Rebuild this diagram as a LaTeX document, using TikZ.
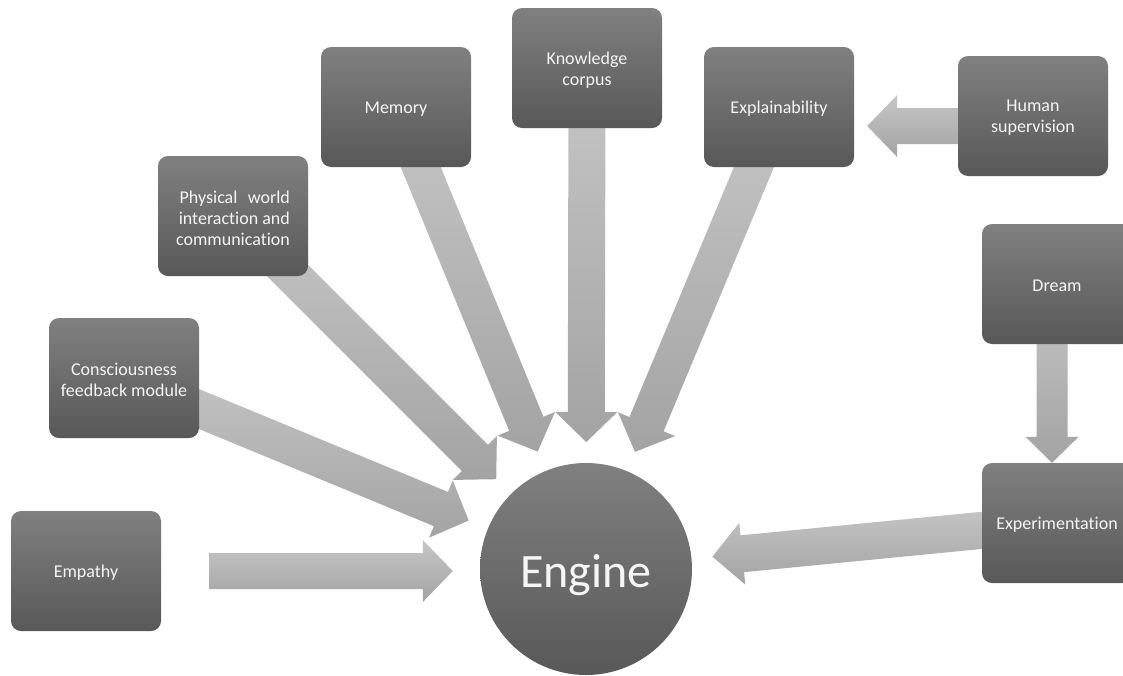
\documentclass[tikz,border=0pt]{standalone}
\usepackage{fontspec}
\setmainfont{Carlito}[Ligatures=NoCommon]
\usetikzlibrary{calc}
\pgfdeclarelayer{bg}
\pgfsetlayers{bg,main}
\definecolor{boxtop}{RGB}{128,128,128}
\definecolor{boxbot}{RGB}{88,88,88}
\definecolor{arrtop}{RGB}{198,198,198}
\definecolor{arrbot}{RGB}{163,163,163}
\definecolor{txt}{RGB}{245,245,245}
\newcommand{\blockarr}[5]{%
  \coordinate (bT) at (#1);
  \coordinate (bP) at (#2);
  \coordinate (bH) at ($(bP)!#5!(bT)$);
  \shade[arrfill] ($(bT)!#3!90:(bP)$) -- ($(bH)!#3!90:(bP)$) -- ($(bH)!#4!90:(bP)$) -- (bP)
     -- ($(bH)!#4!-90:(bP)$) -- ($(bH)!#3!-90:(bP)$) -- ($(bT)!#3!-90:(bP)$) -- cycle;
}
\tikzset{
  boxtext/.style={text=txt, inner sep=0pt, yshift=-2pt,
    font=\fontsize{18}{21}\selectfont, align=center},
  boxshape/.style={minimum width=150pt, minimum height=120pt, rounded corners=10pt,
    top color=boxtop, bottom color=boxbot, inner sep=0pt},
  box/.style={boxshape, label={[boxtext]center:#1}},
  boxright/.style={boxshape, label={[boxtext, align=right]center:#1}},
  hub/.style={circle, minimum size=212pt, inner sep=0pt, top color=boxtop,
    bottom color=boxbot,
    label={[text=txt, inner sep=0pt, yshift=-6pt, font=\fontsize{48}{56}\selectfont]center:#1}},
  arrfill/.style={top color=arrtop, bottom color=arrbot}
}
\begin{document}
\begin{tikzpicture}[x=1pt,y=-1pt]
\useasboundingbox (0,0) rectangle (1123,675);
\clip (0,0) rectangle (1123,675);
\node[box={Empathy}] (emp) at (86,571) {};
\node[box={Consciousness\\feedback module}] (cons) at (124,378) {};
\node[boxright={Physical\hspace{0.35em} world\\interaction and\\communication}] (phys) at (233,216) {};
\node[box={Memory}] (mem) at (396,107) {};
\node[box={Knowledge\\corpus}] (know) at (587,68) {};
\node[box={Explainability}] (expl) at (779,107) {};
\node[box={Human\\supervision}] (hum) at (1033,116) {};
\node[box={Dream}] (dream) at (1057,284) {};
\node[box={Experimentation}] (exper) at (1057,523) {};
\node[hub={Engine}] (engine) at (586,569) {};
\begin{pgfonlayer}{bg}
  \blockarr{cons.center}{$(engine.center)!127pt!(cons.center)$}{18.5pt}{31pt}{30pt}
  \blockarr{phys.center}{$(engine.center)!127pt!(phys.center)$}{18.5pt}{31pt}{30pt}
  \blockarr{mem.center}{$(engine.center)!127pt!(mem.center)$}{18.5pt}{31pt}{30pt}
  \blockarr{know.center}{$(engine.center)!127pt!(know.center)$}{18.5pt}{31pt}{30pt}
  \blockarr{expl.center}{$(engine.center)!127pt!(expl.center)$}{18.5pt}{31pt}{30pt}
  \blockarr{exper.center}{$(engine.center)!127pt!(exper.center)$}{18.5pt}{31pt}{30pt}
  \blockarr{$(emp.east)+(48,0)$}{$(emp.center -| engine.west)+(-27,0)$}{18pt}{31pt}{30pt}
  \blockarr{$(hum.center)+(0,10)$}{$(expl.east |- hum.center)+(13,10)$}{18pt}{31pt}{30pt}
  \blockarr{$(dream.center)+(-5,0)$}{$(exper.north)+(-5,0)$}{15.5pt}{26.5pt}{26pt}
\end{pgfonlayer}
\end{tikzpicture}
\end{document}
